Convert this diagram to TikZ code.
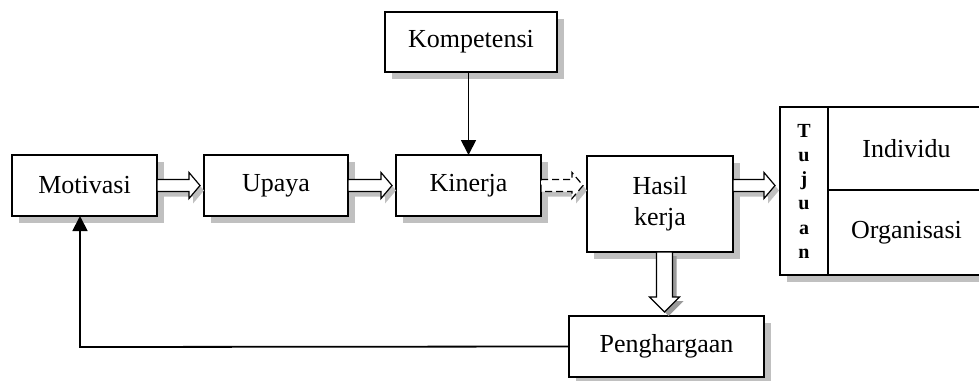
\documentclass[tikz,border=0pt]{standalone}
\usepackage{fontspec}
\setmainfont{Liberation Serif}
\usetikzlibrary{calc,arrows.meta,shadows}
\definecolor{sh}{HTML}{C0C0C0}
\definecolor{shd}{HTML}{9A9A9A}
\tikzset{
  box/.style={draw, line width=1.3pt, fill=white, inner sep=0pt, outer sep=0pt,
    font=\fontsize{26}{31}\selectfont, align=center,
    drop shadow={shadow xshift=7pt, shadow yshift=-7pt, fill=sh, opacity=1}},
  blockarrow/.style={draw, line width=1.2pt, fill=white, line join=miter},
  thinarrow/.style={line width=1.8pt, -{Triangle[width=15pt,length=15pt]}},
  letter/.style={font=\bfseries\fontsize{20}{20}\selectfont, anchor=base, inner sep=0pt},
}
\newcommand\hblock[3][]{%
  \path[fill=sh] let \p1=#2, \p2=#3 in
    (\x1+4pt,\y1+1pt) -- (\x2-7pt,\y1+1pt) -- (\x2-7pt,\y1+8pt) -- (\x2+4pt,\y1-5pt)
    -- (\x2-7pt,\y1-18pt) -- (\x2-7pt,\y1-11pt) -- (\x1+4pt,\y1-11pt) -- cycle;
  \path[blockarrow,#1] let \p1=#2, \p2=#3 in
    (\x1,\y1+6pt) -- (\x2-11pt,\y1+6pt) -- (\x2-11pt,\y1+13pt) -- (\x2,\y1)
    -- (\x2-11pt,\y1-13pt) -- (\x2-11pt,\y1-6pt) -- (\x1,\y1-6pt) -- cycle;}
\newcommand\vblock[2]{%
  \path[fill=shd] let \p1=#1, \p2=#2 in
    (\x1-4pt,\y1-4pt) -- (\x1-4pt,\y2+11pt) -- (\x1-11pt,\y2+11pt) -- (\x1+4pt,\y2-4pt)
    -- (\x1+19pt,\y2+11pt) -- (\x1+12pt,\y2+11pt) -- (\x1+12pt,\y1-4pt) -- cycle;
  \path[blockarrow] let \p1=#1, \p2=#2 in
    (\x1-8pt,\y1) -- (\x1-8pt,\y2+15pt) -- (\x1-15pt,\y2+15pt) -- (\x1,\y2)
    -- (\x1+15pt,\y2+15pt) -- (\x1+8pt,\y2+15pt) -- (\x1+8pt,\y1) -- cycle;}
\begin{document}
\begin{tikzpicture}[x=1pt,y=-1pt]
\useasboundingbox (0,0) rectangle (979,380);
% boxes
\node[box, minimum width=145pt, minimum height=61pt] (mot) at (84.5,185.5) {Motivasi};
\node[box, minimum width=144pt, minimum height=61pt] (upa) at (276,185.5) {Upaya};
\node[box, minimum width=145pt, minimum height=61pt] (kin) at (468.5,185.5) {Kinerja};
\node[box, minimum width=172pt, minimum height=60pt] (kom) at (471,42) {Kompetensi};
\node[box, minimum width=146pt, minimum height=96pt] (hasil) at (660,204) {Hasil\\kerja};
\node[box, minimum width=195pt, minimum height=61pt] (pen) at (666.5,346.5) {Penghargaan};
\node[box, minimum width=48pt, minimum height=168pt] (tuj) at (804,191) {};
\node[box, minimum width=157pt, minimum height=83pt] (ind) at (906.5,148.5) {Individu};
\node[box, minimum width=157pt, minimum height=85pt] (org) at (906.5,232.5) {Organisasi};
\foreach \l [count=\i] in {T,u,j,u,a,n}
  \node[letter] (tl\i) at (804,{137+24.3*(\i-1)}) {\l};
% block arrows
\hblock{(mot.east)}{($(upa.west)+(-4,0)$)}
\hblock{(upa.east)}{($(kin.west)+(-4,0)$)}
\hblock[dash pattern=on 7pt off 4pt]{(kin.east)}{($(hasil.west |- kin.east)+(-4,0)$)}
\hblock{(hasil.east |- kin.east)}{($(tuj.west |- kin.east)+(-5,0)$)}
\vblock{($(pen.north |- hasil.south)+(-2,0)$)}{($(pen.north)+(-2,-4)$)}
% thin arrows
\draw[thinarrow] (kin.north |- kom.south) -- (kin.north);
\coordinate (corner) at (80,347);
\draw[thinarrow] (pen.west) -- (corner) -- (corner |- mot.south);
\end{tikzpicture}
\end{document}
